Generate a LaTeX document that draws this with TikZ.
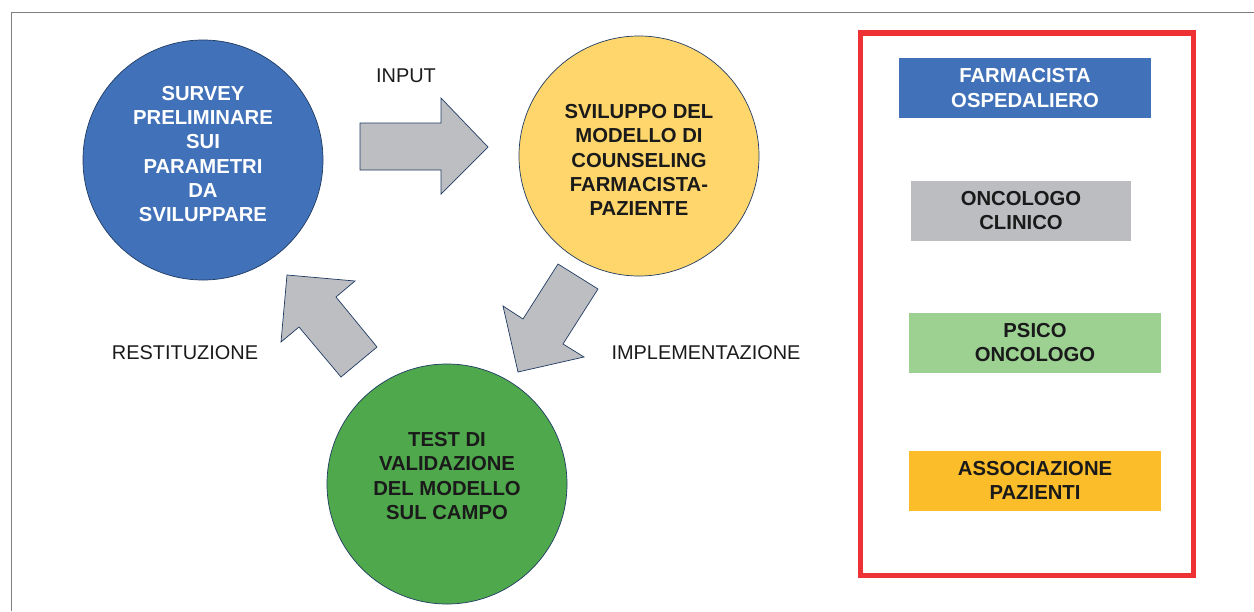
\documentclass[tikz,border=0pt]{standalone}
\usepackage{fontspec}
\setmainfont{Liberation Sans}
\usepackage{tikz}
\usetikzlibrary{positioning}

\definecolor{phaseblue}{HTML}{4172B9}
\definecolor{phaseyellow}{HTML}{FFD66B}
\definecolor{phasegreen}{HTML}{4FA84C}
\definecolor{flowgray}{HTML}{BDBEC1}
\definecolor{edgenavy}{HTML}{1F3B63}
\definecolor{teamred}{HTML}{EE3134}
\definecolor{rolegray}{HTML}{BCBDC1}
\definecolor{rolegreen}{HTML}{9CD192}
\definecolor{roleamber}{HTML}{FCBD2A}
\definecolor{inkblack}{HTML}{1A1A1A}

\newcommand{\phasefont}{\fontsize{17.3}{20.8}\selectfont\bfseries}
\newcommand{\labelfont}{\fontsize{17}{20}\selectfont}

\begin{document}
\begin{tikzpicture}[x=0.03cm, y=-0.03cm,
    phase/.style={circle, draw=edgenavy, line width=0.6pt, minimum size=7.2cm, inner sep=0pt},
    phasetext/.style={align=center, inner sep=0pt, font=\phasefont, text=inkblack},
    role/.style={rectangle, minimum width=7.56cm, minimum height=1.8cm, inner sep=0pt, align=center, font=\phasefont, text=inkblack},
    flow/.style={fill=flowgray, draw=edgenavy, line width=0.6pt, line join=miter},
    caption/.style={font=\labelfont, text=inkblack}]

\useasboundingbox (0,0) rectangle (1254,611);
\draw[gray, line width=0.8pt] (11,611) -- (11,12) -- (1254,12);

% cycle
\node[phase, fill=phaseblue] (survey) at (203,160) {};
\node[phase, fill=phaseyellow] (sviluppo) at (639,156) {};
\node[phase, fill=phasegreen] (test) at (447,484) {};
\node[phasetext, text=white] (surveytext) at (203,154) {SURVEY\\PRELIMINARE\\SUI\\PARAMETRI\\DA\\SVILUPPARE};
\node[phasetext] (svilupptext) at (639,160) {SVILUPPO DEL\\MODELLO DI\\COUNSELING\\FARMACISTA-\\PAZIENTE};
\node[phasetext] (testtext) at (447,476) {TEST DI\\VALIDAZIONE\\DEL MODELLO\\SUL CAMPO};

\draw[flow] (360,123) -- (441,123) -- (441,98) -- (488,147) -- (441,194) -- (441,170) -- (360,170) -- cycle;
\draw[flow] (558,264) -- (598,289) -- (563,344) -- (584,357) -- (518,372) -- (503,306) -- (523,319) -- cycle;
\draw[flow] (287,275) -- (355,281) -- (336,297) -- (377,347) -- (341,377) -- (299,327) -- (281,342) -- cycle;

\node[caption] (input) at (406,76) {INPUT};
\node[caption] (implementazione) at (706,353) {IMPLEMENTAZIONE};
\node[caption] (restituzione) at (185,353) {RESTITUZIONE};

% team
\node[draw=teamred, line width=4.3pt, minimum width=9.975cm, minimum height=16.26cm, inner sep=0pt] (team) at (1026.75,304) {};
\node[role, fill=phaseblue, text=white] (farmacista) at (1025,88) {FARMACISTA\\OSPEDALIERO};
\node[role, fill=rolegray, minimum width=6.6cm] (oncologo) at (1021,210.5) {ONCOLOGO\\CLINICO};
\node[role, fill=rolegreen] (psico) at (1035,342.5) {PSICO\\ONCOLOGO};
\node[role, fill=roleamber] (associazione) at (1035,480.5) {ASSOCIAZIONE\\PAZIENTI};
\end{tikzpicture}
\end{document}
